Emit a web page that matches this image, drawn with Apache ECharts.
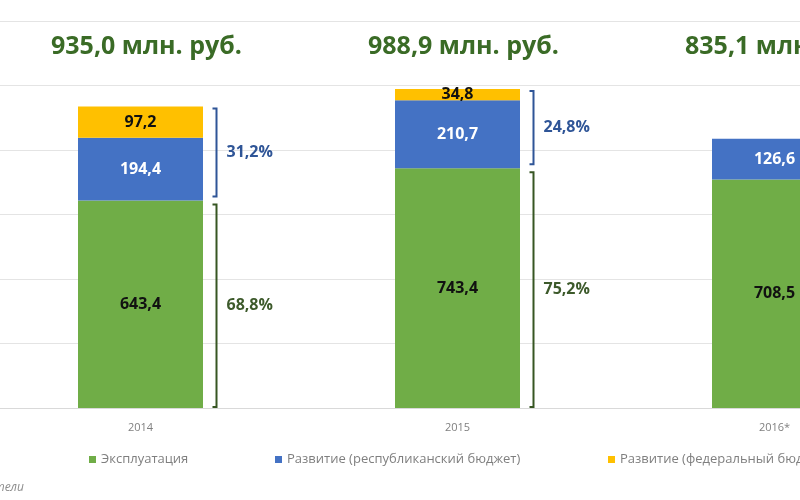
<!DOCTYPE html>
<html>
<head>
<meta charset="utf-8">
<script src="https://cdn.jsdelivr.net/npm/echarts@6/dist/echarts.min.js"></script>
<style>
  html, body { margin: 0; padding: 0; background: #fff; }
  #main { width: 800px; height: 500px; }
</style>
</head>
<body>
<div id="main"></div>
<script>
var years = ['2014', '2015', '2016*'];
var exploitation = [643.4, 743.4, 708.5];
var devRegional = [194.4, 210.7, 126.6];
var devFederal = [97.2, 34.8, 0];
var seriesNames = ['Эксплуатация', 'Развитие (республиканский бюджет)', 'Развитие (федеральный бюджет)'];

var GREEN = '#70ad47', BLUE = '#4472c4', YELLOW = '#ffc000';
var FONT = '"Open Sans", "DejaVu Sans", sans-serif';

function fmt(v) {
  return v.toFixed(1).replace('.', ',');
}

var totals = years.map(function (y, i) {
  return exploitation[i] + devRegional[i] + devFederal[i];
});

var chart = echarts.init(document.getElementById('main'));

// brackets with shares to the right of each bar
function renderBrackets(params, api) {
  var i = api.value(0);
  var green = api.value(1);
  var total = api.value(2);
  var x = api.coord([i, 0])[0] + 76;
  var yBase = api.coord([i, 0])[1] - 1;
  var yGreen = api.coord([i, green])[1];
  var yTop = api.coord([i, total])[1] + 2;
  var pctGreen = green / total * 100;
  var pctDev = 100 - pctGreen;
  function bracket(y1, y2, color) {
    return {
      type: 'polyline',
      shape: { points: [[x - 4, y1], [x, y1], [x, y2], [x - 4, y2]] },
      style: { stroke: color, lineWidth: 2, fill: null }
    };
  }
  function label(y, txt, color) {
    return {
      type: 'text',
      style: {
        x: x + 10, y: y, text: txt, fill: color,
        font: 'bold 16px ' + FONT, align: 'left', verticalAlign: 'middle'
      }
    };
  }
  return {
    type: 'group',
    children: [
      bracket(yTop, yGreen - 4, '#2f5597'),
      bracket(yGreen + 4, yBase, '#375623'),
      label((yTop + yGreen - 4) / 2, fmt(pctDev) + '%', '#2f5597'),
      label((yGreen + 4 + yBase) / 2, fmt(pctGreen) + '%', '#3d5a2b')
    ]
  };
}

function renderTitles(params, api) {
  var i = api.value(0);
  var total = api.value(1);
  var x = api.coord([i, 0])[0] + 6;
  return {
    type: 'text',
    style: {
      x: x, y: 47, text: fmt(total) + ' млн. руб.', fill: '#3a6b26',
      font: 'bold 25px ' + FONT, align: 'center', verticalAlign: 'middle'
    }
  };
}

var barLabel = function (color) {
  return {
    show: true,
    position: 'inside',
    color: color,
    fontWeight: 'bold',
    fontSize: 16,
    fontFamily: FONT,
    formatter: function (p) { return p.value ? fmt(p.value) : ''; }
  };
};

var legendBase = {
  itemWidth: 7,
  itemHeight: 7,
  icon: 'rect',
  itemGap: 4,
  top: 448,
  textStyle: { color: '#7f7f7f', fontSize: 13, fontFamily: FONT }
};

option = {
  animation: false,
  backgroundColor: '#fff',
  grid: { left: -18, width: 951, top: 21, bottom: 92, containLabel: false, outerBoundsMode: 'none' },
  legend: [
    Object.assign({}, legendBase, { left: 84, data: [seriesNames[0]] }),
    Object.assign({}, legendBase, { left: 270, data: [seriesNames[1]] }),
    Object.assign({}, legendBase, { left: 603, data: [seriesNames[2]] })
  ],
  xAxis: {
    type: 'category',
    data: years,
    axisLine: { lineStyle: { color: '#d9d9d9' } },
    axisTick: { show: false },
    axisLabel: { color: '#7f7f7f', fontSize: 11, fontFamily: FONT, margin: 14 }
  },
  yAxis: {
    type: 'value',
    min: 0,
    max: 1200,
    interval: 200,
    axisLabel: { show: false },
    axisLine: { show: false },
    axisTick: { show: false },
    splitLine: { lineStyle: { color: '#e4e4e4' } }
  },
  graphic: [{
    type: 'text',
    x: 24,
    y: 482,
    style: {
      text: '* плановые показатели',
      fill: '#8c8c8c',
      font: 'italic 12px ' + FONT,
      align: 'right'
    }
  }],
  series: [
    {
      name: seriesNames[0], type: 'bar', stack: 'total', barWidth: 125,
      itemStyle: { color: GREEN }, label: barLabel('#111'),
      data: exploitation
    },
    {
      name: seriesNames[1], type: 'bar', stack: 'total', barWidth: 125,
      itemStyle: { color: BLUE }, label: barLabel('#fff'),
      data: devRegional
    },
    {
      name: seriesNames[2], type: 'bar', stack: 'total', barWidth: 125,
      itemStyle: { color: YELLOW }, label: barLabel('#111'),
      data: devFederal
    },
    {
      type: 'custom', renderItem: renderBrackets, silent: true, clip: false,
      data: years.map(function (y, i) { return [i, exploitation[i], totals[i]]; }),
      encode: { x: 0, y: 2 }
    },
    {
      type: 'custom', renderItem: renderTitles, silent: true, clip: false,
      data: years.map(function (y, i) { return [i, totals[i]]; }),
      encode: { x: 0, y: 1 }
    }
  ]
};

if (option && typeof option === 'object') {
  chart.setOption(option, true);
}
</script>
</body>
</html>
